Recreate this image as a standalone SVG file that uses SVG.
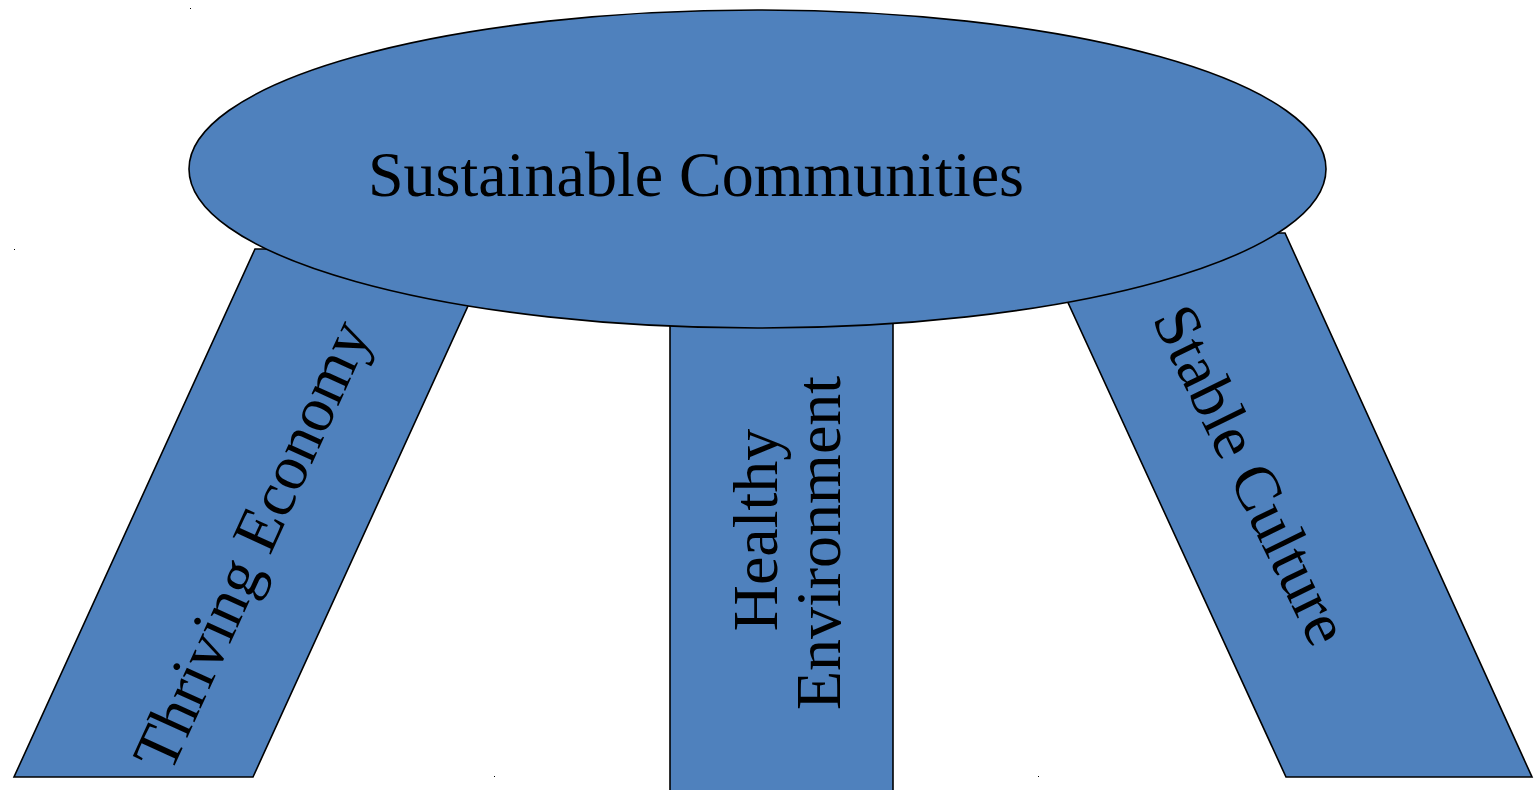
<svg xmlns="http://www.w3.org/2000/svg" width="1534" height="790" viewBox="0 0 1534 790">
<style>
.shape{fill:#4F81BD;stroke:#000;stroke-width:1.6}
.lbl{font-family:"Liberation Serif","Times New Roman",serif;font-size:64px;fill:#000;text-anchor:middle}
.dot{fill:#000}
</style>
<rect width="1534" height="790" fill="#fff"/>
<g id="connectors"></g>
<g id="leg-economy">
<polygon class="shape" points="255,249 494,249 253,777 14,777"/>
<text class="lbl" transform="translate(252,545) rotate(-65.5)" y="21">Thriving Economy</text>
</g>
<g id="leg-environment">
<rect class="shape" x="670" y="300" width="223" height="500"/>
<text class="lbl" transform="translate(777,530) rotate(-90)">Healthy</text>
<text class="lbl" transform="translate(840,543) rotate(-90)">Environment</text>
</g>
<g id="leg-culture">
<polygon class="shape" points="1036,233 1285,233 1532,777 1286,777"/>
<text class="lbl" transform="translate(1251,475) rotate(64)" y="21">Stable Culture</text>
</g>
<g id="top">
<ellipse class="shape" cx="757.5" cy="169" rx="568.5" ry="159"/>
<text class="lbl" x="696" y="196">Sustainable Communities</text>
</g>
<g id="specks">
<rect class="dot" x="190" y="8" width="1" height="1"/>
<rect class="dot" x="14" y="249" width="1" height="1"/>
<rect class="dot" x="494" y="776" width="1" height="1"/>
<rect class="dot" x="1038" y="776" width="1" height="1"/>
</g>
</svg>
